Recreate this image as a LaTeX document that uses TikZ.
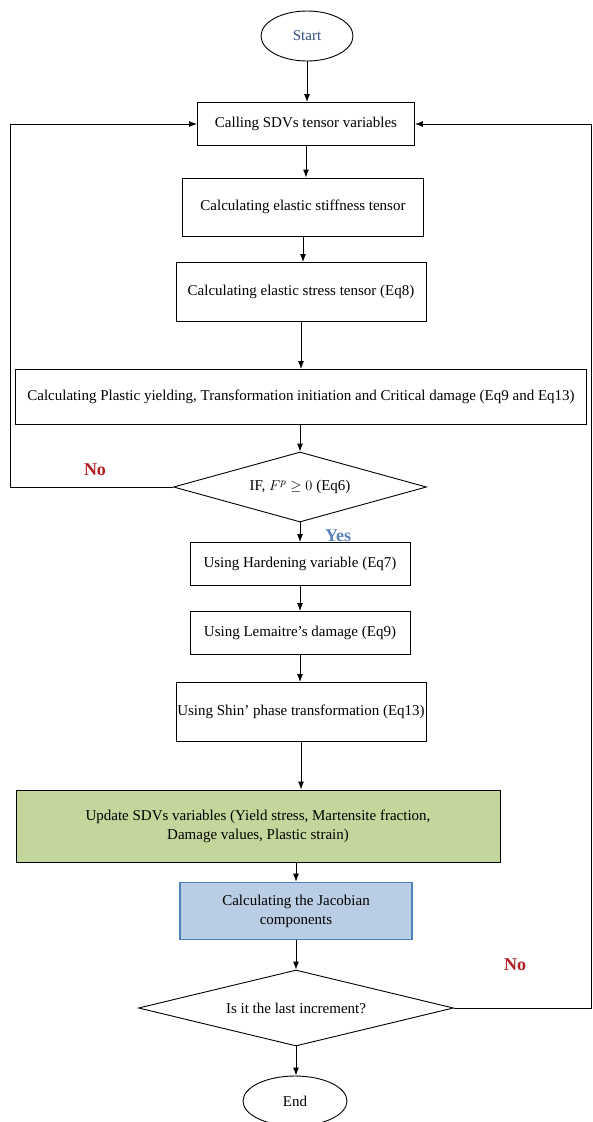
\documentclass[tikz,border=0pt]{standalone}
\usepackage{amsmath}
\usepackage{amssymb}
\usepackage{fontspec}
\setmainfont{Liberation Serif}
\usepackage{tikz}
\usetikzlibrary{arrows,arrows.meta,shapes.geometric,positioning}
\definecolor{noRed}{HTML}{B01E23}
\definecolor{yesBlue}{HTML}{5B84BE}
\definecolor{startBlue}{HTML}{2F4F7F}
\definecolor{updGreen}{HTML}{C3D69B}
\definecolor{jacBlue}{HTML}{B9CDE5}
\definecolor{jacEdge}{HTML}{4F81BD}

\begin{document}
\begin{tikzpicture}[x=1pt, y=-1pt,
    every node/.style={font=\fontsize{15}{19}\selectfont},
    box/.style={draw, line width=0.9pt, align=center, inner sep=1pt},
    term/.style={draw, ellipse, line width=0.9pt, minimum width=92pt, minimum height=50pt},
    cond/.style={draw, diamond, line width=0.9pt, inner sep=0pt},
    line/.style={-{Latex[length=8pt,width=6pt]}, line width=0.9pt},
    label/.style={font=\fontsize{18}{21}\selectfont\bfseries}]
                    \useasboundingbox (0,0) rectangle (593,1122);
                    % main column
                    \node [term, text=startBlue] (start) at (307,36) {Start};
                    \node [box, minimum width=217pt, minimum height=43pt] (call) at (306,124) {Calling SDVs tensor variables};
                    \node [box, minimum width=241pt, minimum height=58pt] (stiff) at (303,207) {Calculating elastic stiffness tensor};
                    \node [box, minimum width=250pt, minimum height=59pt] (stress) at (301,292) {Calculating elastic stress tensor (Eq8)};
                    \node [box, minimum width=571pt, minimum height=55pt] (yield) at (301,397) {Calculating Plastic yielding, Transformation initiation and Critical damage (Eq9 and Eq13)};
                    \node [cond, aspect=3.6, minimum width=253pt, minimum height=70pt] (check) at (300,487) {IF, $F^{p}\geq 0$ (Eq6)};
                    \node [box, minimum width=220pt, minimum height=43pt] (hard) at (300,564) {Using Hardening variable (Eq7)};
                    \node [box, minimum width=220pt, minimum height=43pt] (dmg) at (300,633) {Using Lemaitre’s damage (Eq9)};
                    \node [box, minimum width=250pt, minimum height=59pt] (phase) at (301,712) {Using Shin’ phase transformation (Eq13)};
                    \node [box, fill=updGreen, minimum width=484pt, minimum height=72pt] (update) at (258,826) {Update SDVs variables (Yield stress, Martensite fraction,\\Damage values, Plastic strain)};
                    \node [box, fill=jacBlue, draw=jacEdge, line width=1.6pt, minimum width=232pt, minimum height=57pt] (jac) at (296,911) {Calculating the Jacobian\\components};
                    \node [cond, aspect=4.1, minimum width=315pt, minimum height=76pt] (last) at (296,1008) {Is it the last increment?};
                    \node [term, minimum width=104pt] (end) at (295,1101) {End};
                    % labels
                    \node [label, text=noRed] (noA) at (95,470) {No};
                    \node [label, text=yesBlue] (yes) at (338,536) {Yes};
                    \node [label, text=noRed] (noB) at (515,965) {No};
                    % arrows
                    \draw [line] (start.south) -- (start.south |- call.north);
                    \draw [line] (call.south) -- (call.south |- stiff.north);
                    \draw [line] (stiff.south) -- (stiff.south |- stress.north);
                    \draw [line] (stress.south) -- (stress.south |- yield.north);
                    \draw [line] (yield.south -| check.north) -- (check.north);
                    \draw [line] (check.south) -- (hard.north);
                    \draw [line] (hard.south) -- (dmg.north);
                    \draw [line] (dmg.south) -- (dmg.south |- phase.north);
                    \draw [line] (phase.south) -- (phase.south |- update.north);
                    \draw [line] (update.south -| jac.north) -- (jac.north);
                    \draw [line] (jac.south) -- (last.north);
                    \draw [line] (last.south) -- (last.south |- end.north);
                    % loops back
                    \draw [line] (check.west) -- (10,487) |- (call.west);
                    \draw [line] (last.east) -- (591,1008) |- (call.east);
                \end{tikzpicture}
\end{document}
